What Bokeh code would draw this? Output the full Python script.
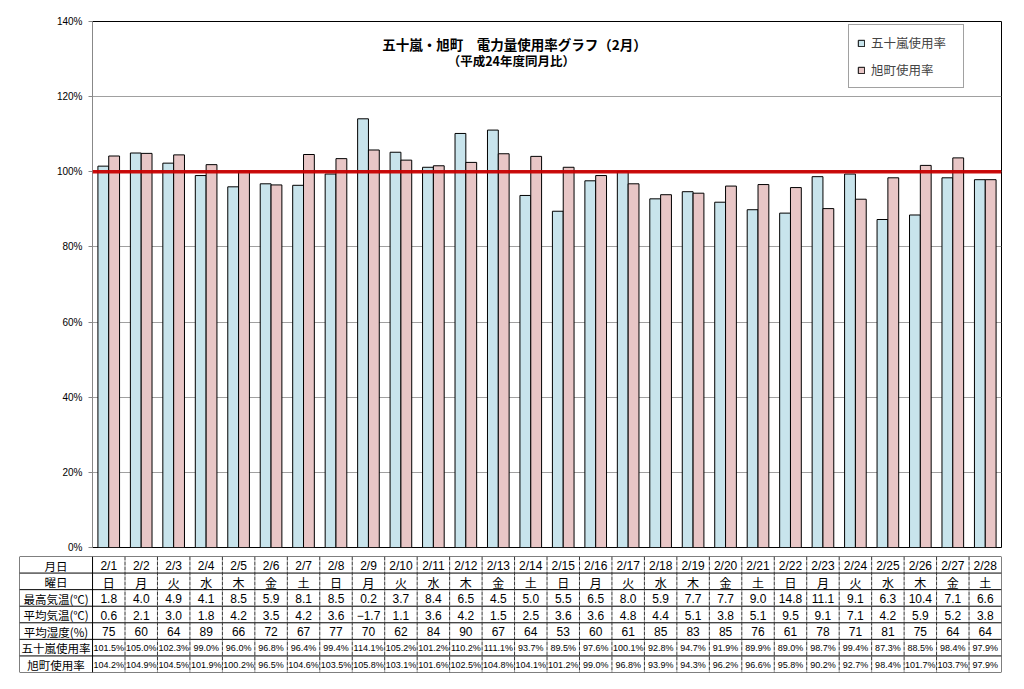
import numpy as np
from bokeh.plotting import figure
from bokeh.layouts import column, row
from bokeh.models import (Range1d, FixedTicker, PrintfTickFormatter, Span, Label,
                          Legend, LegendItem)
from bokeh.core.properties import value
from bokeh.embed import file_html
from bokeh.resources import INLINE

dates = [f"2/{d}" for d in range(1, 29)]
weekdays = ["日", "月", "火", "水", "木", "金", "土"] * 4
max_temp = [1.8, 4.0, 4.9, 4.1, 8.5, 5.9, 8.1, 8.5, 0.2, 3.7, 8.4, 6.5, 4.5, 5.0,
            5.5, 6.5, 8.0, 5.9, 7.7, 7.7, 9.0, 14.8, 11.1, 9.1, 6.3, 10.4, 7.1, 6.6]
avg_temp = [0.6, 2.1, 3.0, 1.8, 4.2, 3.5, 4.2, 3.6, -1.7, 1.1, 3.6, 4.2, 1.5, 2.5,
            3.6, 3.6, 4.8, 4.4, 5.1, 3.8, 5.1, 9.5, 9.1, 7.1, 4.2, 5.9, 5.2, 3.8]
humidity = [75, 60, 64, 89, 66, 72, 67, 77, 70, 62, 84, 90, 67, 64,
            53, 60, 61, 85, 83, 85, 76, 61, 78, 71, 81, 75, 64, 64]
igarashi = [101.5, 105.0, 102.3, 99.0, 96.0, 96.8, 96.4, 99.4, 114.1, 105.2, 101.2, 110.2, 111.1, 93.7,
            89.5, 97.6, 100.1, 92.8, 94.7, 91.9, 89.9, 89.0, 98.7, 99.4, 87.3, 88.5, 98.4, 97.9]
asahimachi = [104.2, 104.9, 104.5, 101.9, 100.2, 96.5, 104.6, 103.5, 105.8, 103.1, 101.6, 102.5, 104.8, 104.1,
              101.2, 99.0, 96.8, 93.9, 94.3, 96.2, 96.6, 95.8, 90.2, 92.7, 98.4, 101.7, 103.7, 97.9]
series_names = ["五十嵐使用率", "旭町使用率"]
row_labels = ["月日", "曜日", "最高気温(℃)", "平均気温(℃)", "平均湿度(%)", "五十嵐使用率", "旭町使用率"]
y_ticks = [0, 20, 40, 60, 80, 100, 120, 140]
reference_level = 100
title_text = "五十嵐・旭町　電力量使用率グラフ（2月）"
subtitle_text = "（平成24年度同月比）"

BLUE = "#c8e4ec"
PINK = "#e8c6c6"
CJK = "Noto Sans CJK JP"
LAT = "Liberation Sans"

n = len(dates)
idx = np.arange(n)

# ---------------- chart ----------------
p = figure(width=1020, height=556, x_range=Range1d(0, n), y_range=Range1d(0, 140),
           output_backend="svg", toolbar_location=None)
p.min_border_left = 92
p.min_border_right = 19
p.min_border_top = 21
p.min_border_bottom = 9
p.background_fill_color = "white"
p.border_fill_color = "white"
p.outline_line_color = "black"
p.outline_line_width = 1

p.xaxis.visible = False
p.xgrid.visible = False
p.ygrid.grid_line_color = "#a0a0a0"
p.ygrid.grid_line_width = 1
p.yaxis.ticker = FixedTicker(ticks=y_ticks)
p.yaxis.formatter = PrintfTickFormatter(format="%d%%")
p.yaxis.axis_line_color = "#888888"
p.yaxis.major_tick_line_color = "#888888"
p.yaxis.major_tick_in = 0
p.yaxis.major_tick_out = 4
p.yaxis.minor_tick_line_color = None
p.yaxis.major_label_text_font = LAT
p.yaxis.major_label_text_font_size = "10px"
p.yaxis.major_label_text_color = "black"
p.yaxis.major_label_standoff = 6

bar_w = 1 / 3
r1 = p.vbar(x=idx + 0.5 - bar_w / 2, top=igarashi, width=bar_w, bottom=0,
            fill_color=BLUE, line_color="black", line_width=1)
r2 = p.vbar(x=idx + 0.5 + bar_w / 2, top=asahimachi, width=bar_w, bottom=0,
            fill_color=PINK, line_color="black", line_width=1)

p.add_layout(Span(location=reference_level, dimension="width", line_color="#c80000",
                  line_width=3.5, line_alpha=0.95))

p.add_layout(Label(x=13.0, y=134.1, text=title_text, text_align="center",
                   text_baseline="middle", text_font=CJK, text_font_style="bold",
                   text_font_size="13.5px", text_color="black"))
p.add_layout(Label(x=12.9, y=129.6, text=subtitle_text, text_align="center",
                   text_baseline="middle", text_font=CJK, text_font_style="bold",
                   text_font_size="12.5px", text_color="black"))

legend = Legend(items=[LegendItem(label=series_names[0], renderers=[r1]),
                       LegendItem(label=series_names[1], renderers=[r2])],
                location=(756, 459))
legend.label_text_font = CJK
legend.label_text_font_size = "12.5px"
legend.glyph_width = 8
legend.glyph_height = 8
legend.label_height = 17
legend.label_width = 84
legend.spacing = 8
legend.padding = 8
legend.margin = 0
legend.label_standoff = 6
legend.border_line_color = "#444444"
legend.border_line_width = 1
legend.background_fill_alpha = 1
p.add_layout(legend, "center")

# ---------------- table ----------------
lab_w = 2.25
n_rows = len(row_labels)
t = figure(width=1020, height=120, x_range=Range1d(-lab_w, n), y_range=Range1d(n_rows, 0),
           output_backend="svg", toolbar_location=None)
t.min_border_left = 19
t.min_border_right = 19
t.min_border_top = 0
t.min_border_bottom = 4
t.axis.visible = False
t.grid.visible = False
t.outline_line_color = None
t.background_fill_color = "white"
t.border_fill_color = "white"

hy = np.arange(n_rows + 1)
t.segment(x0=np.full(len(hy), -lab_w), x1=np.full(len(hy), n), y0=hy, y1=hy,
          line_color="black", line_width=1)
vx = np.array([-lab_w, 0, n])
t.segment(x0=vx, x1=vx, y0=np.zeros(3), y1=np.full(3, n_rows), line_color="black", line_width=1)
ix = np.arange(1, n)
t.segment(x0=ix, x1=ix, y0=np.zeros(len(ix)), y1=np.full(len(ix), n_rows),
          line_color="#333333", line_width=1, line_dash="4 1")

cx = idx + 0.5
rows_text = [
    dates,
    weekdays,
    [f"{v:.1f}" for v in max_temp],
    [f"{v:.1f}".replace("-", "−") for v in avg_temp],
    [f"{v:d}" for v in humidity],
    [f"{v:.1f}%" for v in igarashi],
    [f"{v:.1f}%" for v in asahimachi],
]
row_fonts = [LAT, CJK, LAT, LAT, LAT, LAT, LAT]
row_sizes = ["12px", "12px", "12px", "12px", "12px", "9px", "9px"]
for r, (txt, fnt, sz) in enumerate(zip(rows_text, row_fonts, row_sizes)):
    t.text(x=cx, y=np.full(n, r + 0.55), text=txt, text_align="center", text_baseline="middle",
           text_font=value(fnt), text_font_size=value(sz), text_color="black")

t.text(x=np.full(n_rows, -lab_w / 2), y=np.arange(n_rows) + 0.55, text=row_labels,
       text_align="center", text_baseline="middle", text_font=value(CJK),
       text_font_size=value("11.5px"), text_color="black")

layout = column(p, row(t), spacing=0)
open("out.html", "w").write(file_html(layout, INLINE))
